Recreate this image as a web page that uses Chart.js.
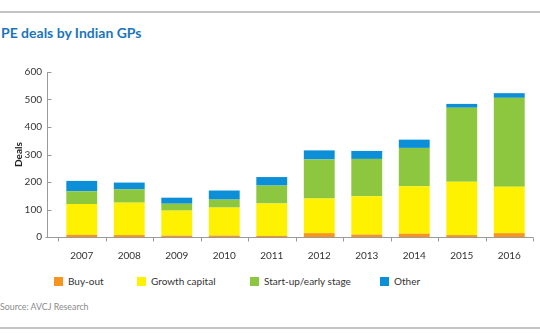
<!DOCTYPE html>
<html>
<head>
<meta charset="utf-8">
<script src="https://cdn.jsdelivr.net/npm/chart.js@4.4.1/dist/chart.umd.min.js"></script>
<style>
  html, body { margin: 0; padding: 0; background: #fff; }
  body { width: 540px; height: 334px; position: relative; overflow: hidden; font-family: Lato, sans-serif; }
  .rule { position: absolute; left: 0; width: 540px; height: 2px; background: #c4c4c4; }
  #title { position: absolute; left: 1px; top: 24px; font-size: 14px; font-weight: bold; color: #1c75bc; }
  #wrap { position: absolute; left: 0; top: 50px; width: 540px; height: 220px; }
  #legend { position: absolute; left: 0; top: 274px; width: 540px; height: 14px; font-size: 10px; color: #333; }
  .item { position: absolute; top: 0; white-space: nowrap; line-height: 14px; }
  .item i { display: inline-block; width: 9px; height: 9px; vertical-align: -1px; margin-right: 5px; }
  #source { position: absolute; left: 0; top: 301px; font-size: 8.8px; color: #8a8a8a; }
</style>
</head>
<body>
<div class="rule" style="top:11px"></div>
<div id="title">PE deals by Indian GPs</div>
<div id="wrap"><canvas id="dealsChart"></canvas></div>
<div id="legend"></div>
<div id="source">Source: AVCJ Research</div>
<div class="rule" style="top:327px"></div>

<script>
const years = ['2007', '2008', '2009', '2010', '2011', '2012', '2013', '2014', '2015', '2016'];

const buyOut = [8, 7, 5, 5, 4, 14, 9, 12, 7, 14];
const growthCapital = [112, 118, 91, 102, 118, 126, 139, 173, 194, 169];
const startUp = [46, 48, 25, 29, 65, 142, 136, 139, 269, 323];
const other = [38, 25, 22, 33, 31, 33, 29, 30, 14, 17];

const seriesNames = ['Buy-out', 'Growth capital', 'Start-up/early stage', 'Other'];
const seriesColors = ['#f7941d', '#fff200', '#8dc63f', '#0d8fd8'];
const yTicks = [0, 100, 200, 300, 400, 500, 600];

const legendLeft = [54, 137, 250, 380];

// axis lines and the small tick marks, drawn by hand
const axisLines = {
    id: 'axisLines',
    afterDatasetsDraw(chart) {
        const { ctx, chartArea, scales } = chart;
        const y = scales.y;
        const axisX = chartArea.left - 10.5;
        const base = Math.round(y.getPixelForValue(0)) + 0.5;

        ctx.save();
        ctx.strokeStyle = '#9a9a9a';
        ctx.lineWidth = 1;
        ctx.beginPath();
        ctx.moveTo(axisX, Math.round(y.getPixelForValue(600)));
        ctx.lineTo(axisX, base);
        ctx.moveTo(axisX - 2, base);
        ctx.lineTo(chartArea.right, base);

        yTicks.forEach(v => {
            const py = Math.round(y.getPixelForValue(v)) + 0.5;
            ctx.moveTo(axisX, py);
            ctx.lineTo(axisX + 4, py);
        });

        const step = (chartArea.right - chartArea.left) / years.length;
        for (let i = 0; i <= years.length; i++) {
            const px = Math.round(chartArea.left + i * step) + 0.5;
            ctx.moveTo(px, base);
            ctx.lineTo(px, base + 4);
        }
        ctx.stroke();
        ctx.restore();
    }
};

const datasets = [buyOut, growthCapital, startUp, other].map((values, i) => ({
    label: seriesNames[i],
    data: values,
    backgroundColor: seriesColors[i],
    borderWidth: 0,
    barPercentage: 0.65,
    categoryPercentage: 1
}));

new Chart(document.getElementById('dealsChart'), {
    type: 'bar',
    data: { labels: years, datasets: datasets },
    options: {
        responsive: true,
        maintainAspectRatio: false,
        animation: false,
        layout: { padding: { left: 0, right: 7, top: 16, bottom: 0 } },
        plugins: {
            legend: { display: false },
            tooltip: { enabled: false }
        },
        scales: {
            x: {
                stacked: true,
                grid: { display: false, drawTicks: false },
                border: { display: false },
                ticks: {
                    color: '#333',
                    padding: 13,
                    font: { family: 'Lato', size: 10 }
                },
                afterFit(scale) { scale.height = 33; }
            },
            y: {
                stacked: true,
                min: 0,
                max: 600,
                afterBuildTicks(scale) { scale.ticks = yTicks.map(v => ({ value: v })); },
                grid: { display: false, drawTicks: false },
                border: { display: false },
                ticks: {
                    color: '#333',
                    padding: 16,
                    font: { family: 'Lato', size: 10 }
                },
                title: {
                    display: true,
                    text: 'Deals',
                    color: '#222',
                    padding: { top: 13, bottom: 0 },
                    font: { family: 'Lato', size: 10, weight: 'bold' }
                },
                afterFit(scale) { scale.width = 58; }
            }
        }
    },
    plugins: [axisLines]
});

const legend = document.getElementById('legend');
seriesNames.forEach((name, i) => {
    const item = document.createElement('div');
    item.className = 'item';
    item.style.left = legendLeft[i] + 'px';
    item.innerHTML = '<i style="background:' + seriesColors[i] + '"></i>' + name;
    legend.appendChild(item);
});
</script>
</body>
</html>
